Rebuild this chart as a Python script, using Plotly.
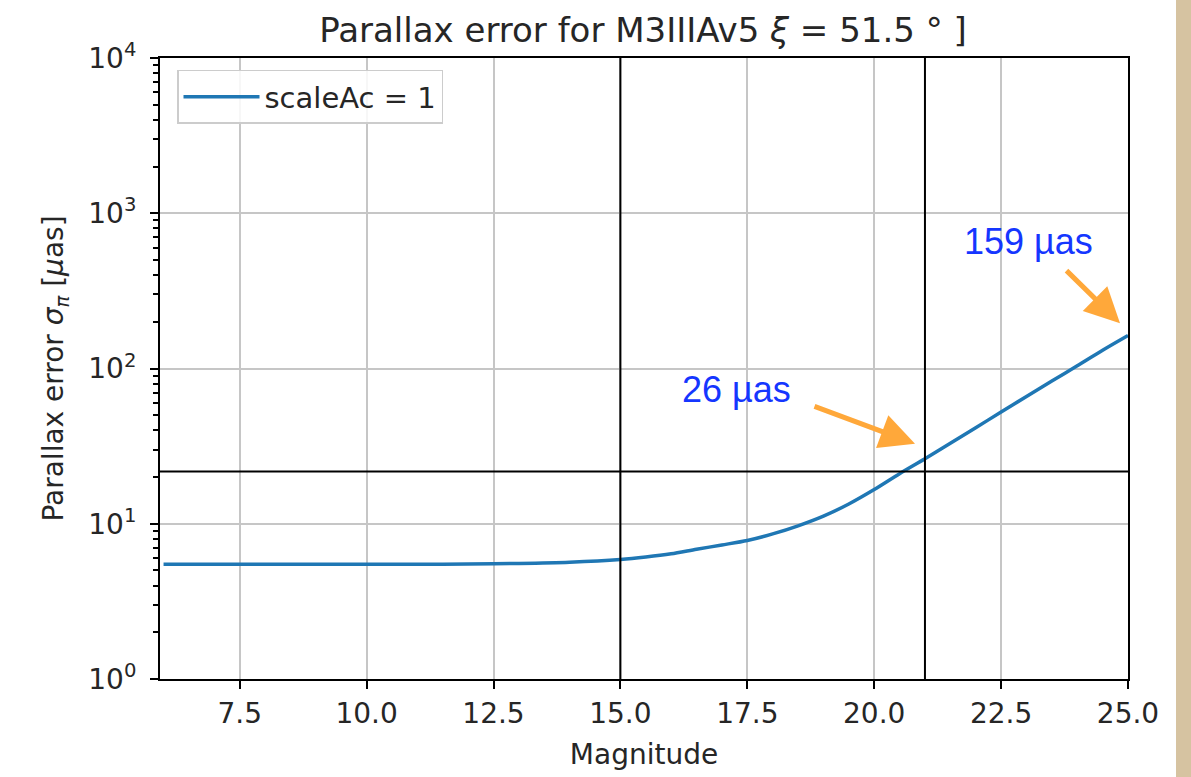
import plotly.graph_objects as go

# ---- data ----
magnitude = [6, 7, 8, 9, 10, 11, 12, 13, 14, 15, 15.5, 16, 16.5, 17, 17.5, 18, 18.5,
             19, 19.5, 20, 20.5, 21, 21.5, 22, 22.5, 23, 23.5, 24, 24.5, 25]
parallax_error = [5.48, 5.48, 5.48, 5.48, 5.48, 5.49, 5.50, 5.55, 5.65, 5.88, 6.1, 6.4,
                  6.85, 7.3, 7.8, 8.6, 9.7, 11.2, 13.4, 16.6, 21.0, 26.2, 33.0, 41.5,
                  52.5, 66, 83, 104, 131, 163]
series_name = "scaleAc = 1"
vlines_mag = [15, 21]
hline_err = 21.7
x_ticks = [7.5, 10.0, 12.5, 15.0, 17.5, 20.0, 22.5, 25.0]
y_ticks = [1, 10, 100, 1000, 10000]
y_ticktext = ["10<sup>0</sup>", "10<sup>1</sup>", "10<sup>2</sup>", "10<sup>3</sup>", "10<sup>4</sup>"]
ann_texts = ["26 µas", "159 µas"]

W, H = 1191, 777
L, R, T, B = 160, 1128, 58, 681
PW, PH = R - L, B - T

def px(x):
    return (x - L) / PW

def py(y):
    return (B - y) / PH

FONT = "DejaVu Sans"
TXT = "#262626"

fig = go.Figure()
fig.add_trace(go.Scatter(x=magnitude, y=parallax_error, mode="lines", name=series_name,
                         line=dict(color="#1f77b4", width=3.5, shape="spline", smoothing=0.8)))

for v in vlines_mag:
    fig.add_shape(type="line", xref="x", yref="paper", x0=v, x1=v, y0=0, y1=1,
                  line=dict(color="black", width=2))
fig.add_shape(type="line", xref="paper", yref="y", x0=0, x1=1, y0=hline_err, y1=hline_err,
              line=dict(color="black", width=2))

# beige strip on the right of the picture
fig.add_shape(type="rect", xref="paper", yref="paper",
              x0=px(1176), x1=px(1195), y0=py(780), y1=py(-5),
              fillcolor="#d6c3a1", line=dict(width=0), layer="below")

# annotations (text + arrows)
blue = "#1536ff"
orange = "#ffa83a"
fig.add_annotation(xref="paper", yref="paper", x=px(736), y=py(391), text=ann_texts[0],
                   xanchor="center", yanchor="middle",
                   showarrow=False, font=dict(family="Liberation Sans", size=36, color=blue))
fig.add_annotation(xref="paper", yref="paper", x=px(1028), y=py(242), text=ann_texts[1],
                   xanchor="center", yanchor="middle",
                   showarrow=False, font=dict(family="Liberation Sans", size=36, color=blue))
fig.add_annotation(xref="paper", yref="paper", x=px(915), y=py(445), text="",
                   showarrow=True, ax=813 - 915, ay=407 - 445, axref="pixel", ayref="pixel",
                   arrowhead=2, arrowwidth=5, arrowsize=1.4, arrowcolor=orange, standoff=0)
fig.add_annotation(xref="paper", yref="paper", x=px(1120), y=py(324), text="",
                   showarrow=True, ax=1065 - 1120, ay=270 - 324, axref="pixel", ayref="pixel",
                   arrowhead=2, arrowwidth=5, arrowsize=1.4, arrowcolor=orange, standoff=0)

fig.update_layout(
    width=W, height=H,
    margin=dict(l=L, r=W - R, t=T, b=H - B),
    paper_bgcolor="white", plot_bgcolor="white",
    font=dict(family=FONT, size=28, color=TXT),
    title=dict(text="Parallax error for M3IIIAv5 <i>ξ</i> = 51.5 ° ]",
               x=px(643), xref="paper", xanchor="center",
               y=1 - 30 / H, yref="container", yanchor="middle",
               font=dict(family=FONT, size=34, color=TXT)),
    showlegend=True,
    legend=dict(x=px(177), y=py(70), xanchor="left", yanchor="top",
                bgcolor="rgba(255,255,255,0.85)", bordercolor="#cccccc", borderwidth=1.5,
                itemwidth=76,
                font=dict(family=FONT, size=29, color=TXT)),
    xaxis=dict(range=[5.93, 25], tickvals=x_ticks, tickformat=".1f",
               showgrid=True, gridcolor="#c6c6c6", gridwidth=2,
               showline=True, mirror=True, linecolor="black", linewidth=2,
               ticks="outside", ticklen=8, tickwidth=2, tickcolor="black",
               zeroline=False,
               title=dict(text="Magnitude", standoff=16,
                          font=dict(family=FONT, size=28, color=TXT))),
    yaxis=dict(type="log", range=[0, 4], tickvals=y_ticks, ticktext=y_ticktext,
               showgrid=True, gridcolor="#c6c6c6", gridwidth=2,
               showline=True, mirror=True, linecolor="black", linewidth=2,
               ticks="outside", ticklen=8, tickwidth=2, tickcolor="black",
               ticklabelstandoff=8,
               zeroline=False,
               minor=dict(ticks="outside", ticklen=5, tickwidth=1.5, tickcolor="black",
                          dtick="D1", showgrid=False),
               title=dict(text="Parallax error <i>σ</i><sub><i>π</i></sub> [<i>μ</i>as]",
                          standoff=16,
                          font=dict(family=FONT, size=28, color=TXT))),
)

fig.write_html("out.html")
